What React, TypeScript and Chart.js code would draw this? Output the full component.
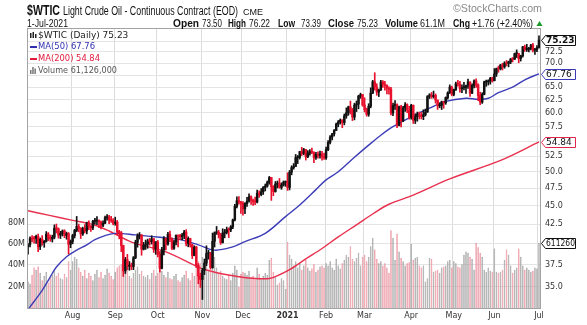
import React, { useEffect, useRef } from 'react';
import { Chart, registerables } from 'chart.js';

Chart.register(...registerables);

// ---------- calendar ----------
const monthNames = ['Jul', 'Aug', 'Sep', 'Oct', 'Nov', 'Dec', '2021', 'Feb', 'Mar', 'Apr', 'May', 'Jun', 'Jul'];
const sessionsPerMonth = [22, 21, 21, 22, 20, 22, 19, 19, 23, 21, 20, 22, 1];

// ---------- daily OHLC ($WTIC) ----------
const opens = [
  39.65,39.90,40.58,40.61,40.65,40.90,39.62,40.55,40.10,40.29,41.20,40.75,40.59,40.81,41.96,41.90,41.07,41.29,41.60,41.04,41.27,39.92,
  40.27,41.01,41.70,42.19,41.95,41.22,41.94,41.61,42.67,42.24,42.01,42.89,42.89,42.93,42.82,42.34,42.62,43.35,43.39,43.04,42.97,
  42.61,42.76,41.51,41.37,39.77,36.76,38.05,37.30,37.33,37.26,38.28,40.16,40.97,41.11,39.31,39.80,39.93,40.31,40.25,40.60,39.29,
  40.22,38.72,37.05,39.22,40.67,39.95,41.19,40.60,39.43,40.20,41.04,40.96,40.88,41.06,41.46,40.03,40.64,39.85,38.56,39.57,37.39,36.17,
  35.79,36.81,37.66,38.79,38.79,37.14,40.29,41.36,41.45,41.12,40.13,41.34,41.43,41.82,41.74,42.15,43.06,44.91,45.71,45.53,
  45.34,44.55,45.28,45.64,46.26,45.76,45.60,45.52,46.78,46.57,46.99,47.62,47.82,48.36,49.10,47.74,47.02,48.12,48.23,47.62,48.00,48.40,
  48.52,47.62,49.93,50.63,50.83,52.24,52.25,53.21,52.91,53.57,52.36,52.98,53.24,53.13,52.27,52.77,52.61,52.85,52.34,
  52.20,53.55,54.76,55.69,56.23,56.85,57.97,58.36,58.68,58.24,59.47,60.05,61.14,60.52,59.24,61.49,61.67,63.22,63.53,
  61.50,60.64,59.75,61.28,63.83,66.09,65.05,64.01,64.44,66.02,65.61,65.39,64.80,64.60,60.00,61.42,61.55,57.76,61.18,58.56,60.97,61.56,60.55,
  59.16,61.45,58.65,59.33,59.77,59.60,59.32,59.70,60.18,63.15,63.46,63.13,63.38,62.44,61.35,61.43,62.14,61.91,62.94,63.86,65.01,
  63.58,64.49,65.69,65.63,64.71,64.90,64.92,65.28,66.08,63.82,65.37,66.27,65.49,63.36,62.05,63.58,66.05,66.07,66.21,66.85,
  66.32,67.72,68.83,68.81,69.62,69.23,70.05,69.96,70.29,70.91,70.88,72.12,72.15,71.04,71.64,73.66,73.06,73.08,73.30,74.05,72.91,72.98,
  73.50,
];
const highs = [
  40.00,40.84,41.00,40.92,41.09,41.20,40.71,41.01,40.40,41.53,41.40,41.08,41.07,42.40,42.51,42.00,41.56,41.74,41.76,41.46,41.40,40.46,
  41.19,41.82,43.52,42.51,42.04,42.10,42.43,42.76,42.92,42.30,42.99,43.27,43.49,43.06,42.90,42.95,43.57,43.78,43.67,43.54,43.24,
  43.43,42.99,41.69,41.54,39.81,38.33,38.69,37.84,37.66,38.43,40.43,41.24,41.40,41.12,40.16,40.45,40.57,40.66,40.99,40.65,40.25,
  40.40,39.04,39.55,40.89,40.69,41.43,41.60,40.72,40.44,41.11,41.09,41.18,41.30,41.69,41.77,40.85,40.68,39.93,39.74,39.67,37.60,36.50,
  37.05,38.14,39.73,39.19,38.94,41.34,41.49,42.19,41.68,41.31,41.89,41.81,42.11,42.00,42.31,43.17,45.20,46.26,46.28,45.63,
  45.56,45.44,46.18,46.68,46.40,45.93,46.23,47.23,47.12,47.46,47.76,48.13,48.59,49.28,49.12,47.89,48.51,48.58,48.96,48.31,48.59,48.58,
  49.83,50.20,50.94,51.28,52.75,52.58,53.28,53.93,53.77,53.60,53.41,53.57,53.80,53.19,53.12,53.18,53.30,53.28,52.96,
  53.99,55.06,55.95,56.33,56.99,58.15,58.62,58.91,58.76,59.82,60.95,61.28,62.26,60.85,61.85,62.28,63.40,63.81,63.54,
  62.89,60.91,61.75,64.86,66.40,67.98,65.70,64.62,66.40,66.34,66.18,65.47,65.05,64.96,61.88,62.33,61.73,61.28,61.45,61.23,61.98,61.73,61.25,
  61.64,61.51,59.84,60.17,60.18,60.10,60.59,60.74,63.33,63.70,63.94,64.22,63.65,62.48,61.94,62.25,62.24,63.07,64.08,65.47,65.21,
  64.62,66.04,66.41,66.18,65.45,66.00,65.43,66.66,66.11,65.70,66.48,66.69,65.70,63.99,63.89,66.23,66.45,66.50,67.01,67.06,
  68.87,68.98,69.40,69.76,70.00,70.34,70.61,70.47,71.07,71.27,72.25,72.98,72.22,71.77,73.78,74.06,74.25,73.58,74.27,74.45,73.34,73.96,
  76.22,
];
const lows = [
  38.71,39.60,40.20,40.05,40.02,39.02,39.27,39.80,39.55,40.20,40.38,40.28,40.20,40.60,41.35,40.69,40.64,40.96,40.75,40.55,38.72,39.50,
  39.98,40.71,41.50,41.50,40.64,41.03,41.35,41.23,41.78,41.55,41.78,42.50,42.44,42.02,41.86,42.16,42.55,43.03,42.55,42.71,42.40,
  42.35,41.10,40.60,39.01,36.13,36.46,36.87,36.83,36.89,36.90,38.18,39.56,40.58,38.59,39.22,39.29,39.43,39.81,39.95,38.93,38.69,
  38.39,36.63,36.97,38.64,39.22,39.81,40.25,39.27,39.28,39.84,39.61,40.49,40.45,40.63,39.72,39.61,39.58,38.19,38.52,37.14,35.32,34.92,
  33.64,36.34,37.36,38.12,36.95,37.06,39.58,41.17,40.71,39.90,40.07,40.73,41.22,40.76,41.51,41.90,42.92,44.70,45.20,43.92,
  43.70,43.90,44.90,45.50,45.17,45.03,45.15,45.40,46.16,46.40,46.60,47.11,47.66,48.10,45.75,46.41,46.93,47.55,47.50,47.34,47.82,47.78,
  47.18,47.26,49.52,50.40,50.81,51.28,52.00,52.58,52.69,51.84,52.23,52.64,52.90,51.44,51.96,52.16,52.14,51.82,51.96,
  51.94,53.37,54.51,55.20,55.86,56.80,57.48,57.97,57.32,57.83,59.02,59.57,59.81,58.60,58.73,60.26,60.78,62.79,61.27,
  60.18,59.41,59.38,60.96,63.71,64.41,63.39,63.13,64.33,64.95,64.39,63.65,63.59,59.65,59.51,60.66,57.32,57.64,57.44,58.41,60.30,60.04,58.86,
  58.85,58.08,58.06,58.48,58.90,58.89,58.76,59.44,60.11,62.74,62.79,62.83,61.86,60.66,60.98,60.64,60.89,61.63,62.62,63.74,63.28,
  63.28,64.35,65.22,64.01,63.88,64.45,63.76,64.77,63.16,63.72,64.86,64.93,62.33,61.56,61.80,63.47,65.17,65.43,65.61,66.02,
  66.27,67.19,68.07,68.57,68.56,68.93,69.41,69.23,69.92,70.29,70.80,71.25,70.11,70.48,71.35,72.64,72.63,72.53,72.94,72.50,71.93,72.57,
  73.39,
];
const closes = [
  39.82,40.65,40.63,40.62,40.90,39.62,40.55,40.10,40.29,41.20,40.75,40.59,40.81,41.96,41.90,41.07,41.29,41.60,41.04,41.27,39.92,40.27,
  41.01,41.70,42.19,41.95,41.22,41.94,41.61,42.67,42.24,42.01,42.89,42.89,42.93,42.82,42.34,42.62,43.35,43.39,43.04,42.97,42.61,
  42.76,41.51,41.37,39.77,36.76,38.05,37.30,37.33,37.26,38.28,40.16,40.97,41.11,39.31,39.80,39.93,40.31,40.25,40.60,39.29,40.22,
  38.72,37.05,39.22,40.67,39.95,41.19,40.60,39.43,40.20,41.04,40.96,40.88,41.06,41.46,40.03,40.64,39.85,38.56,39.57,37.39,36.17,35.79,
  36.81,37.66,38.79,38.79,37.14,40.29,41.36,41.45,41.12,40.13,41.34,41.43,41.82,41.74,42.15,43.06,44.91,45.71,45.53,45.34,
  44.55,45.28,45.64,46.26,45.76,45.60,45.52,46.78,46.57,46.99,47.62,47.82,48.36,49.10,47.74,47.02,48.12,48.23,47.62,48.00,48.40,48.52,
  47.62,49.93,50.63,50.83,52.24,52.25,53.21,52.91,53.57,52.36,52.98,53.24,53.13,52.27,52.77,52.61,52.85,52.34,52.20,
  53.55,54.76,55.69,56.23,56.85,57.97,58.36,58.68,58.24,59.47,60.05,61.14,60.52,59.24,61.49,61.67,63.22,63.53,61.50,
  60.64,59.75,61.28,63.83,66.09,65.05,64.01,64.44,66.02,65.61,65.39,64.80,64.60,60.00,61.42,61.55,57.76,61.18,58.56,60.97,61.56,60.55,59.16,
  61.45,58.65,59.33,59.77,59.60,59.32,59.70,60.18,63.15,63.46,63.13,63.38,62.44,61.35,61.43,62.14,61.91,62.94,63.86,65.01,63.58,
  64.49,65.69,65.63,64.71,64.90,64.92,65.28,66.08,63.82,65.37,66.27,65.49,63.36,62.05,63.58,66.05,66.07,66.21,66.85,66.32,
  67.72,68.83,68.81,69.62,69.23,70.05,69.96,70.29,70.91,70.88,72.12,72.15,71.04,71.64,73.66,73.06,73.08,73.30,74.05,72.91,72.98,73.47,
  75.23,
];
// volume, millions
const volumes = [
  25,23,31,38,36,39,33,26,30,34,24,29,31,35,30,33,28,27,32,29,44,36,
  44,48,46,38,34,30,36,28,33,30,26,32,36,29,34,28,31,37,33,30,27,
  34,38,40,41,42,37,35,30,28,33,36,39,32,35,30,29,31,27,33,36,30,
  33,38,35,31,29,34,28,27,30,32,26,25,29,31,35,28,26,33,30,40,44,42,
  48,44,46,36,34,55,48,38,32,35,30,28,27,31,26,33,40,36,20,32,
  34,33,31,35,29,30,27,38,32,28,30,33,31,45,47,34,30,22,24,28,26,18,
  62,50,46,40,44,38,42,36,40,45,38,35,37,41,34,36,39,40,38,
  42,40,44,38,36,46,40,37,42,45,50,48,58,46,44,47,52,40,48,
  50,44,48,58,66,55,46,42,44,40,42,38,33,73,66,45,70,53,47,44,40,42,43,
  60,45,47,48,40,38,40,25,28,47,46,34,35,36,33,38,39,40,44,45,38,
  44,42,39,38,41,50,53,52,48,46,36,61,57,52,48,36,34,38,35,34,
  56,34,33,34,36,45,55,50,40,33,36,38,56,48,40,36,38,36,34,35,38,37,
  61.126,
];

// ---------- moving averages (session index -> value) ----------
const ma50Idx = [0, 7, 10, 14, 19, 24, 29, 33, 38, 43, 53, 65, 75, 84, 92, 101, 107, 117, 127, 134, 142, 147, 153, 161, 168, 174, 180, 189, 198, 206, 216, 222, 227, 232, 239, 245, 252];
const ma50Val = [32.6, 34.6, 35.7, 37.2, 38.4, 39.2, 39.85, 40.5, 41.0, 41.3, 41.1, 40.8, 40.5, 39.85, 39.2, 39.6, 40.25, 41.3, 43.5, 45.1, 47.3, 48.75, 50.0, 52.3, 54.3, 56.0, 57.5, 59.3, 60.9, 62.2, 62.8, 62.6, 62.8, 63.9, 65.0, 66.5, 67.76];
const ma200Idx = [0, 10, 22, 32, 40, 51, 68, 84, 89, 96, 104, 112, 119, 122, 129, 137, 145, 153, 162, 170, 178, 190, 208, 234, 252];
const ma200Val = [44.3, 43.7, 43.0, 42.45, 41.6, 40.2, 39.0, 37.2, 36.8, 36.4, 36.1, 35.9, 35.9, 36.1, 36.9, 38.15, 39.4, 40.85, 42.4, 43.85, 45.2, 46.5, 48.9, 51.9, 54.84];

// ---------- axes ----------
const priceTicks = [35, 37.5, 40, 42.5, 45, 47.5, 50, 52.5, 55, 57.5, 60, 62.5, 65, 67.5, 70, 72.5, 75];
const volTicks = [20, 40, 60, 80];
const PRICE_MIN = 32.76;
const PRICE_MAX = 78.1;
const VOL_MAX = 263;

// ---------- texts ----------
const symbolText = '$WTIC';
const nameText = 'Light Crude Oil - Continuous Contract (EOD)';
const exchangeText = 'CME';
const dateText = '1-Jul-2021';
const quoteParts = [
  { t: 'Open', b: true, x: 173, w: 26 },
  { t: '73.50', b: false, x: 202, w: 20 },
  { t: 'High', b: true, x: 228, w: 18 },
  { t: '76.22', b: false, x: 249, w: 21 },
  { t: 'Low', b: true, x: 278, w: 17 },
  { t: '73.39', b: false, x: 301, w: 20 },
  { t: 'Close', b: true, x: 328, w: 26 },
  { t: '75.23', b: false, x: 357, w: 21 },
  { t: 'Volume', b: true, x: 385, w: 33 },
  { t: '61.1M', b: false, x: 420, w: 25 },
  { t: 'Chg', b: true, x: 453, w: 17 },
  { t: '+1.76 (+2.40%)', b: false, x: 472, w: 61 },
];
const watermark = '\u00A9StockCharts.com';

// ---------- derived ----------
const labels: string[] = [];
const monthTickLabel: Record<number, string> = {};
{
  let k = 0;
  monthNames.forEach((m, mi) => {
    for (let d = 0; d < sessionsPerMonth[mi]; d++) {
      if (d === 0 && mi > 0) monthTickLabel[k] = m;
      labels.push(m + ' ' + (d + 1));
      k++;
    }
  });
}
const N = closes.length;
const isUp = (i: number) => (i === 0 ? closes[0] >= opens[0] : closes[i] >= closes[i - 1]);
const candleColors = closes.map((_, i) => (isUp(i) ? '#111111' : '#e8102c'));
const volFill = closes.map((_, i) => (isUp(i) ? '#a6a6a6' : '#f09aa5'));
const volEdge = closes.map((_, i) => (isUp(i) ? '#8e8e8e' : '#e2788a'));

const sparse = (idx: number[], val: number[]) => {
  const arr: (number | null)[] = new Array(N).fill(null);
  idx.forEach((ix, j) => { arr[ix] = val[j]; });
  return arr;
};

const lastClose = closes[N - 1];
const ma50Last = ma50Val[ma50Val.length - 1];
const ma200Last = ma200Val[ma200Val.length - 1];
const lastVol = volumes[N - 1];

const fPrice = (v: number) => (Math.log(v) - Math.log(PRICE_MIN)) / (Math.log(PRICE_MAX) - Math.log(PRICE_MIN));
const markerFracs = [fPrice(lastClose), fPrice(ma50Last), fPrice(ma200Last), lastVol / VOL_MAX];
const hideTick = (v: number) => markerFracs.some((f) => Math.abs(fPrice(v) - f) * 280 < 7);

const FONT = '"DejaVu Sans"';
const HFONT = '"Liberation Sans"';

const decorPlugin = {
  id: 'decor',
  afterDraw(chart: any) {
    const { ctx, chartArea: a, scales } = chart;
    ctx.save();
    // frame
    ctx.strokeStyle = '#a3a3a3';
    ctx.lineWidth = 1;
    ctx.strokeRect(Math.round(a.left) + 0.5, Math.round(a.top) + 0.5, Math.round(a.right - a.left), Math.round(a.bottom - a.top));

    // header
    ctx.textAlign = 'left';
    ctx.textBaseline = 'alphabetic';
    ctx.fillStyle = '#111';
    ctx.font = `bold 14px ${HFONT}`;
    ctx.fillText(symbolText, 27, 15, 33);
    ctx.font = `12px ${HFONT}`;
    ctx.fillText(nameText, 63, 15, 175);
    ctx.font = `9px ${HFONT}`;
    ctx.fillText(exchangeText, 243, 15, 20);
    ctx.font = `10px ${HFONT}`;
    ctx.fillText(dateText, 27, 27, 41);
    quoteParts.forEach((p) => {
      ctx.font = p.b ? `bold 11px ${HFONT}` : `10px ${HFONT}`;
      ctx.fillText(p.t, p.x, 27, p.w);
    });
    // up arrow
    ctx.fillStyle = '#1a9a2a';
    ctx.beginPath();
    ctx.moveTo(536.5, 26);
    ctx.lineTo(539.5, 21);
    ctx.lineTo(542.5, 26);
    ctx.closePath();
    ctx.fill();
    // watermark
    ctx.fillStyle = '#8a8a8a';
    ctx.font = `11px ${HFONT}`;
    ctx.fillText(watermark, 453, 12, 89);

    // legend
    ctx.textBaseline = 'middle';
    ctx.font = `9px ${FONT}`;
    const rows = [
      { t: `$WTIC (Daily) ${lastClose.toFixed(2)}`, c: '#222', y: 35.5, w: 97 },
      { t: `MA(50) ${ma50Last.toFixed(2)}`, c: '#2f2fb0', y: 47, w: 57 },
      { t: `MA(200) ${ma200Last.toFixed(2)}`, c: '#e01a3c', y: 59, w: 62 },
      { t: `Volume ${Math.round(lastVol * 1e6).toLocaleString('en-US')}`, c: '#555', y: 70.5, w: 79 },
    ];
    rows.forEach((r) => {
      ctx.fillStyle = r.c;
      ctx.fillText(r.t, 38, r.y, r.w);
    });
    // legend icons
    ctx.fillStyle = '#222';
    ctx.fillRect(30, 33, 1.5, 5);
    ctx.fillRect(32.5, 32, 1.5, 6);
    ctx.fillRect(35, 34, 1.5, 4);
    ctx.fillStyle = '#2f2fb0';
    ctx.fillRect(30, 46, 7, 2);
    ctx.fillStyle = '#e01a3c';
    ctx.fillRect(30, 58, 7, 2);
    ctx.fillStyle = '#777';
    ctx.fillRect(30, 70, 1.5, 4);
    ctx.fillRect(32.2, 67, 1.5, 7);
    ctx.fillRect(34.4, 68.5, 1.5, 5.5);

    // right-side markers
    const x0 = Math.round(a.right) + 1;
    const marker = (y: number, text: string, border: string, bold: boolean) => {
      ctx.beginPath();
      ctx.moveTo(x0 + 0.5, y);
      ctx.lineTo(x0 + 4.5, y - 5);
      ctx.lineTo(x0 + 34.5, y - 5);
      ctx.lineTo(x0 + 34.5, y + 5);
      ctx.lineTo(x0 + 4.5, y + 5);
      ctx.closePath();
      ctx.fillStyle = '#fff';
      ctx.fill();
      ctx.strokeStyle = border;
      ctx.lineWidth = 1;
      ctx.stroke();
      ctx.fillStyle = '#111';
      ctx.font = `${bold ? 'bold ' : ''}9px ${FONT}`;
      ctx.textBaseline = 'middle';
      ctx.fillText(text, x0 + 5, y + 0.5, 29);
    };
    const py = (v: number) => Math.round(scales.y.getPixelForValue(v)) + 0.5;
    marker(py(lastClose), lastClose.toFixed(2), '#111', true);
    marker(py(ma50Last), ma50Last.toFixed(2), '#3a3ab8', false);
    marker(py(ma200Last), ma200Last.toFixed(2), '#e0264a', false);
    marker(Math.round(scales.yVol.getPixelForValue(lastVol)) + 0.5, String(Math.round(lastVol * 1e4)), '#111', false);
    ctx.restore();
  },
};

export default function App() {
  const ref = useRef<HTMLCanvasElement>(null);
  useEffect(() => {
    document.body.style.margin = '0';
    const canvas = ref.current;
    if (!canvas) return;
    const chart = new Chart(canvas, {
      type: 'bar',
      data: {
        labels,
        datasets: [
          {
            type: 'bar',
            label: 'Volume',
            yAxisID: 'yVol',
            data: volumes,
            backgroundColor: volFill,
            borderColor: volEdge,
            borderWidth: 0.5,
            barPercentage: 0.8,
            categoryPercentage: 1,
            grouped: false,
            order: 10,
          } as any,
          {
            type: 'line',
            label: 'MA(200)',
            yAxisID: 'y',
            data: sparse(ma200Idx, ma200Val),
            borderColor: '#e8304f',
            borderWidth: 1.4,
            pointRadius: 0,
            spanGaps: true,
            tension: 0.35,
            order: 5,
          } as any,
          {
            type: 'line',
            label: 'MA(50)',
            yAxisID: 'y',
            data: sparse(ma50Idx, ma50Val),
            borderColor: '#3d3db8',
            borderWidth: 1.4,
            pointRadius: 0,
            spanGaps: true,
            tension: 0.35,
            order: 4,
          } as any,
          {
            type: 'bar',
            label: 'wick',
            yAxisID: 'y',
            data: lows.map((l, i) => [l, highs[i]]),
            backgroundColor: candleColors,
            barThickness: 1,
            grouped: false,
            order: 2,
          } as any,
          {
            type: 'bar',
            label: '$WTIC',
            yAxisID: 'y',
            data: opens.map((o, i) => [o, closes[i]]),
            backgroundColor: candleColors,
            barThickness: 1.8,
            minBarLength: 1,
            grouped: false,
            order: 1,
          } as any,
        ],
      },
      options: {
        responsive: false,
        animation: false,
        devicePixelRatio: 1,
        layout: { padding: { top: 28, left: 0, right: 0, bottom: 0 } },
        plugins: { legend: { display: false }, tooltip: { enabled: false } },
        scales: {
          x: {
            type: 'category',
            offset: true,
            grid: {
              display: true,
              drawTicks: false,
              offset: true,
              color: (c: any) => (monthTickLabel[c.index] !== undefined ? '#dcdcdc' : 'rgba(0,0,0,0)'),
            },
            border: { display: false },
            ticks: {
              autoSkip: false,
              maxRotation: 0,
              minRotation: 0,
              padding: 3,
              color: '#333',
              font: (c: any) => ({ family: 'DejaVu Sans', size: 8, weight: monthTickLabel[c.index] === '2021' ? 'bold' : 'normal' }),
              callback: (_v: any, i: number) => monthTickLabel[i] ?? '',
            },
            afterFit: (s: any) => { s.height = 17; },
          },
          y: {
            type: 'logarithmic',
            position: 'right',
            min: PRICE_MIN,
            max: PRICE_MAX,
            afterBuildTicks: (s: any) => { s.ticks = priceTicks.map((v) => ({ value: v })); },
            grid: { color: '#e4e4e4', drawTicks: false },
            border: { display: false },
            ticks: {
              autoSkip: false,
              padding: 5,
              color: '#333',
              font: { family: 'DejaVu Sans', size: 8 },
              callback: (v: any) => (hideTick(Number(v)) ? '' : Number(v).toFixed(1)),
            },
            afterFit: (s: any) => { s.width = 47; },
          },
          yVol: {
            type: 'linear',
            position: 'left',
            min: 0,
            max: VOL_MAX,
            afterBuildTicks: (s: any) => { s.ticks = volTicks.map((v) => ({ value: v })); },
            grid: { display: false, drawTicks: false },
            border: { display: false },
            ticks: {
              autoSkip: false,
              padding: 2,
              color: '#333',
              font: { family: 'DejaVu Sans', size: 8 },
              callback: (v: any) => `${v}M`,
            },
            afterFit: (s: any) => { s.width = 27; },
          },
        },
      } as any,
      plugins: [decorPlugin],
    });
    return () => chart.destroy();
  }, []);
  return <canvas ref={ref} width={587} height={325} style={{ display: 'block', width: 587, height: 325 }} />;
}
